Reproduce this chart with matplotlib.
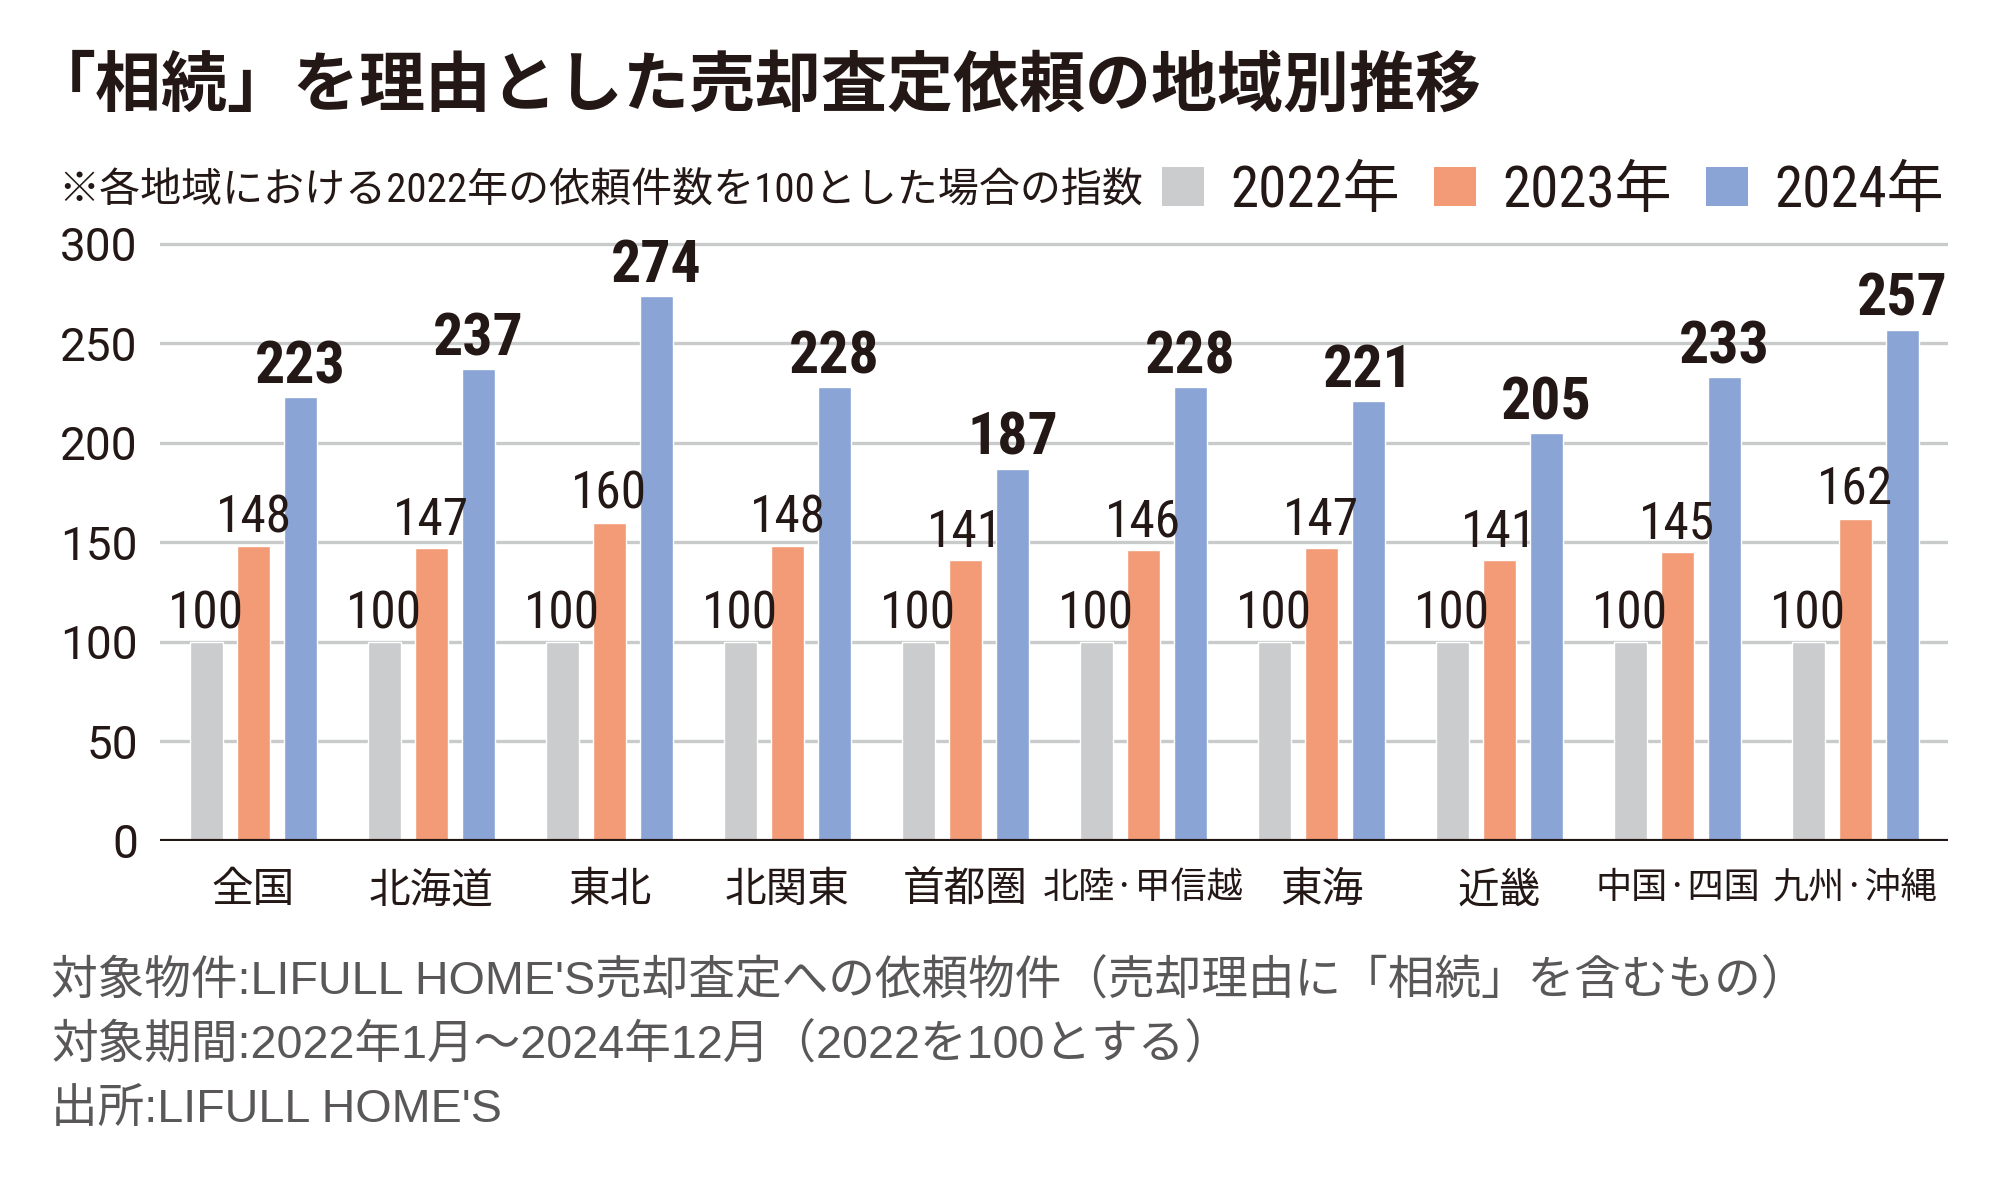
import numpy as np
import matplotlib
matplotlib.use('Agg')
import matplotlib.pyplot as plt
from matplotlib import font_manager as fm
from matplotlib.font_manager import FontProperties
from matplotlib.patches import Patch

# data
regions = ['全国', '北海道', '東北', '北関東', '首都圏', '北陸·甲信越', '東海', '近畿', '中国·四国', '九州·沖縄']
v2022 = [100, 100, 100, 100, 100, 100, 100, 100, 100, 100]
v2023 = [148, 147, 160, 148, 141, 146, 147, 141, 145, 162]
v2024 = [223, 237, 274, 228, 187, 228, 221, 205, 233, 257]
years = ['2022年', '2023年', '2024年']
yticks = [0, 50, 100, 150, 200, 250, 300]

title = '「相続」を理由とした売却査定依頼の地域別推移'
note = '※各地域における2022年の依頼件数を100とした場合の指数'
footer = ["対象物件:LIFULL HOME'S売却査定への依頼物件（売却理由に「相続」を含むもの）",
          '対象期間:2022年1月～2024年12月（2022を100とする）',
          "出所:LIFULL HOME'S"]

colors = ['#cbcccd', '#f29b76', '#8aa4d6']
ink = '#231815'

available = {f.name for f in fm.fontManager.ttflist}
def pick(*names):
    for n in names:
        if n in available:
            return n
    return 'DejaVu Sans'

jp = pick('Noto Sans CJK JP', 'Noto Sans CJK SC')
cond = pick('Roboto Condensed', 'Barlow Condensed', 'Oswald', 'Liberation Sans Narrow', 'Roboto')
num = pick('Roboto', 'DejaVu Sans')
latin = pick('Liberation Sans', 'DejaVu Sans')

fig = plt.figure(figsize=(19.99, 11.81), dpi=100)
ax = fig.add_axes([160/1999, 1 - 841/1181, 1788/1999, 601/1181])

x = np.arange(len(regions))
w = 0.185
off = 0.264
series = [v2022, v2023, v2024]
for i, (vals, c) in enumerate(zip(series, colors)):
    ax.bar(x + (i - 1) * off, vals, w, color=c, edgecolor='white', linewidth=1, zorder=2)
    bold = (i == 2)
    for xi, v in zip(x, vals):
        ax.annotate(str(v), (xi + (i - 1) * off, v), xytext=(0, 10), textcoords='offset points',
                    ha='center', va='baseline', color=ink, family=cond,
                    fontsize=43 if bold else 37, fontweight='bold' if bold else 'normal', zorder=4)

ax.set_xlim(-0.525, len(regions) - 0.48)
ax.set_ylim(0, 302)
ax.set_yticks(yticks)
ax.yaxis.grid(True, color='#c9caca', linewidth=2.4, zorder=0)
ax.set_axisbelow(True)
ax.axhline(0, color=ink, linewidth=3, zorder=3)
for s in ax.spines.values():
    s.set_visible(False)

ax.tick_params(axis='y', length=0, pad=16, labelsize=33, labelcolor=ink)
for lbl in ax.get_yticklabels():
    lbl.set_family(num)
ax.set_xticks(x, regions)
ax.tick_params(axis='x', length=0, pad=21, labelsize=30, labelcolor=ink)
for lbl in ax.get_xticklabels():
    lbl.set_family(jp)
    if '·' in lbl.get_text():
        lbl.set_fontsize(26)

fig.text(30/1999, 1 - 86/1181, title, fontsize=47.5, fontweight='bold', family=jp, color=ink, va='center')
fig.text(58/1999, 1 - 191/1181, note, fontsize=29.5, family=[cond, jp], color=ink, va='center')

handles = [Patch(facecolor=c, edgecolor='none') for c in colors]
fig.legend(handles, years, loc='center right', bbox_to_anchor=(1944/1999, 1 - 191/1181), ncol=3,
           frameon=False, prop=FontProperties(family=[cond, jp], size=41), labelcolor=ink,
           handlelength=0.74, handleheight=0.67, handletextpad=0.46, columnspacing=0.6,
           borderpad=0, borderaxespad=0)

for k, line in enumerate(footer):
    fig.text(51/1999, 1 - (982 + 64 * k)/1181, line, fontsize=33.6, family=[latin, jp],
             color='#595757', va='center')

fig.savefig('out.png', dpi=100, facecolor='white')
